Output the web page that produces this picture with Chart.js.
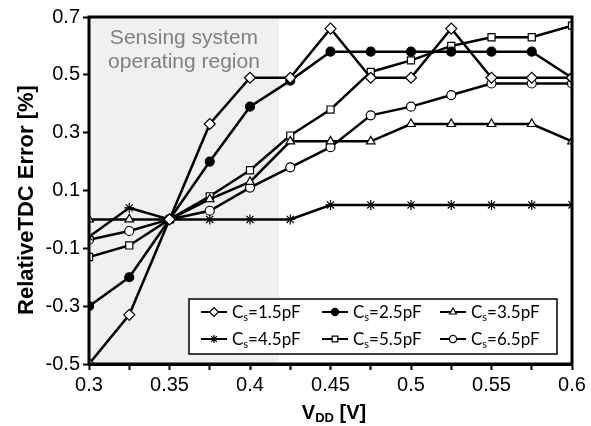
<!DOCTYPE html>
<html>
<head>
<meta charset="utf-8">
<script src="https://cdn.jsdelivr.net/npm/chart.js@4/dist/chart.umd.min.js"></script>
<style>
  body { margin: 0; background: #fff; }
  canvas { display: block; }
</style>
</head>
<body>
<canvas id="grafico" width="591" height="426"></canvas>
<script>
// Supply voltage points (V)
const vdd = [0.3, 0.325, 0.35, 0.375, 0.4, 0.425, 0.45, 0.475, 0.5, 0.525, 0.55, 0.575, 0.6];

// Relative TDC error (%) per sensing capacitance
const cs15 = [-0.5, -0.33, 0, 0.33, 0.49, 0.49, 0.66, 0.49, 0.49, 0.66, 0.49, 0.49, 0.49];
const cs25 = [-0.3, -0.2, 0, 0.2, 0.39, 0.48, 0.58, 0.58, 0.58, 0.58, 0.58, 0.58, 0.49];
const cs35 = [0, 0, 0, 0.07, 0.13, 0.27, 0.27, 0.27, 0.33, 0.33, 0.33, 0.33, 0.27];
const cs45 = [-0.06, 0.04, 0, 0, 0, 0, 0.05, 0.05, 0.05, 0.05, 0.05, 0.05, 0.05];
const cs55 = [-0.13, -0.09, 0, 0.08, 0.17, 0.29, 0.38, 0.51, 0.55, 0.6, 0.63, 0.63, 0.67];
const cs65 = [-0.07, -0.04, 0, 0.03, 0.11, 0.18, 0.25, 0.36, 0.39, 0.43, 0.47, 0.47, 0.47];

const seriesLabels = ["1.5pF", "2.5pF", "3.5pF", "4.5pF", "5.5pF", "6.5pF"];

// Axis ticks
const xTicks = [0.3, 0.325, 0.35, 0.375, 0.4, 0.425, 0.45, 0.475, 0.5, 0.525, 0.55, 0.575, 0.6];
const xTickLabels = ["0.3", "", "0.35", "", "0.4", "", "0.45", "", "0.5", "", "0.55", "", "0.6"];
const yTicks = [-0.5, -0.3, -0.1, 0.1, 0.3, 0.5, 0.7];

// Shaded operating region
const regionStart = 0.3;
const regionEnd = 0.418;

const FONT = "'Liberation Sans', Arial, sans-serif";

const toPoints = (ys) => ys.map((y, i) => ({ x: vdd[i], y: y }));

const serie = (label, valores, estilo, radio, relleno) => ({
    label: label,
    data: toPoints(valores),
    borderColor: "#000",
    borderWidth: 2.5,
    pointStyle: estilo,
    pointRadius: radio,
    pointHoverRadius: radio,
    pointBackgroundColor: relleno,
    pointBorderColor: "#000",
    pointBorderWidth: 1.2,
    tension: 0
});

const datasets = [
    serie(seriesLabels[0], cs15, "rectRot", 5.5, "#fff"),
    serie(seriesLabels[1], cs25, "circle", 4.5, "#000"),
    serie(seriesLabels[2], cs35, "triangle", 5, "#fff"),
    serie(seriesLabels[3], cs45, "star", 5, "#fff"),
    serie(seriesLabels[4], cs55, "rect", 5, "#fff"),
    serie(seriesLabels[5], cs65, "circle", 4.5, "#fff")
];

// Grey background region with caption
const regionPlugin = {
    id: "region",
    beforeDatasetsDraw(chart) {
        const { ctx, chartArea, scales } = chart;
        const x0 = scales.x.getPixelForValue(regionStart);
        const x1 = scales.x.getPixelForValue(regionEnd);
        ctx.save();
        ctx.fillStyle = "#f0f0f0";
        ctx.fillRect(x0, chartArea.top, x1 - x0, chartArea.bottom - chartArea.top);
        ctx.fillStyle = "#808080";
        ctx.font = "21px " + FONT;
        ctx.textAlign = "center";
        ctx.textBaseline = "alphabetic";
        const cx = (x0 + x1) / 2;
        ctx.fillText("Sensing system", cx, chartArea.top + 27);
        ctx.fillText("operating region", cx, chartArea.top + 51);
        ctx.restore();
    }
};

// Frame, legend and axis titles
const decoPlugin = {
    id: "deco",
    afterDraw(chart) {
        const { ctx, chartArea } = chart;
        ctx.save();

        // frame
        ctx.strokeStyle = "#000";
        ctx.lineWidth = 3;
        ctx.strokeRect(chartArea.left, chartArea.top, chartArea.right - chartArea.left, chartArea.bottom - chartArea.top);

        // legend box
        const lx = 189, ly = 299, lw = 368, lh = 55;
        ctx.fillStyle = "#fff";
        ctx.fillRect(lx, ly, lw, lh);
        ctx.lineWidth = 1.5;
        ctx.strokeRect(lx, ly, lw, lh);

        const colX = [201, 322, 440];
        const rowY = [312, 339];
        chart.data.datasets.forEach((ds, i) => {
            const x = colX[i % 3];
            const y = rowY[Math.floor(i / 3)];
            ctx.strokeStyle = "#000";
            ctx.lineWidth = 2;
            ctx.beginPath();
            ctx.moveTo(x, y);
            ctx.lineTo(x + 26, y);
            ctx.stroke();
            ctx.fillStyle = ds.pointBackgroundColor;
            ctx.lineWidth = 1.2;
            Chart.helpers.drawPoint(ctx, {
                pointStyle: ds.pointStyle,
                radius: ds.pointRadius * 0.8,
                rotation: 0,
                borderWidth: 1.2
            }, x + 13, y);

            ctx.fillStyle = "#000";
            ctx.textBaseline = "alphabetic";
            ctx.textAlign = "left";
            let tx = x + 31;
            ctx.font = "17px Lato, 'Open Sans', sans-serif";
            ctx.fillText("C", tx, y + 6);
            tx += ctx.measureText("C").width;
            ctx.font = "11px Lato, 'Open Sans', sans-serif";
            ctx.fillText("s", tx, y + 9);
            tx += ctx.measureText("s").width;
            ctx.font = "17px Lato, 'Open Sans', sans-serif";
            ctx.fillText("=" + ds.label, tx, y + 6);
        });

        // x axis title: V_DD [V]
        ctx.fillStyle = "#000";
        ctx.textAlign = "left";
        const big = "bold 20px " + FONT;
        const small = "bold 13px " + FONT;
        ctx.font = big;
        const wV = ctx.measureText("V").width;
        const wR = ctx.measureText(" [V]").width;
        ctx.font = small;
        const wDD = ctx.measureText("DD").width;
        let tx = 334 - (wV + wDD + wR) / 2;
        const by = 419;
        ctx.font = big;
        ctx.fillText("V", tx, by);
        tx += wV;
        ctx.font = small;
        ctx.fillText("DD", tx, by + 3);
        tx += wDD;
        ctx.font = big;
        ctx.fillText(" [V]", tx, by);

        // y axis title
        ctx.translate(33, 200);
        ctx.rotate(-Math.PI / 2);
        ctx.textAlign = "center";
        ctx.font = "bold 22px " + FONT;
        ctx.fillText("RelativeTDC Error [%]", 0, 0);

        ctx.restore();
    }
};

new Chart(document.getElementById("grafico").getContext("2d"), {
    type: "line",
    data: { datasets: datasets },
    options: {
        responsive: false,
        animation: false,
        layout: { padding: { top: 17, right: 19, left: 0, bottom: 0 } },
        plugins: {
            legend: { display: false },
            tooltip: { enabled: false }
        },
        scales: {
            x: {
                type: "linear",
                min: 0.3,
                max: 0.6,
                afterBuildTicks: (s) => { s.ticks = xTicks.map(v => ({ value: v })); },
                afterFit: (s) => { s.height = 62; },
                ticks: {
                    autoSkip: false,
                    maxRotation: 0,
                    padding: 3,
                    color: "#000",
                    font: { family: FONT, size: 20 },
                    callback: (v, i) => xTickLabels[i]
                },
                grid: { drawOnChartArea: false, drawTicks: true, tickLength: 6, tickWidth: 2, color: "#000" },
                border: { display: true, color: "#000", width: 3 }
            },
            y: {
                min: -0.5,
                max: 0.7,
                afterBuildTicks: (s) => { s.ticks = yTicks.map(v => ({ value: v })); },
                afterFit: (s) => { s.width = 89; },
                ticks: {
                    padding: 3,
                    color: "#000",
                    font: { family: FONT, size: 20 },
                    callback: (v) => Number(v).toFixed(1)
                },
                grid: { drawOnChartArea: false, drawTicks: true, tickLength: 6, tickWidth: 2, color: "#000" },
                border: { display: true, color: "#000", width: 3 }
            }
        }
    },
    plugins: [regionPlugin, decoPlugin]
});
</script>
</body>
</html>
